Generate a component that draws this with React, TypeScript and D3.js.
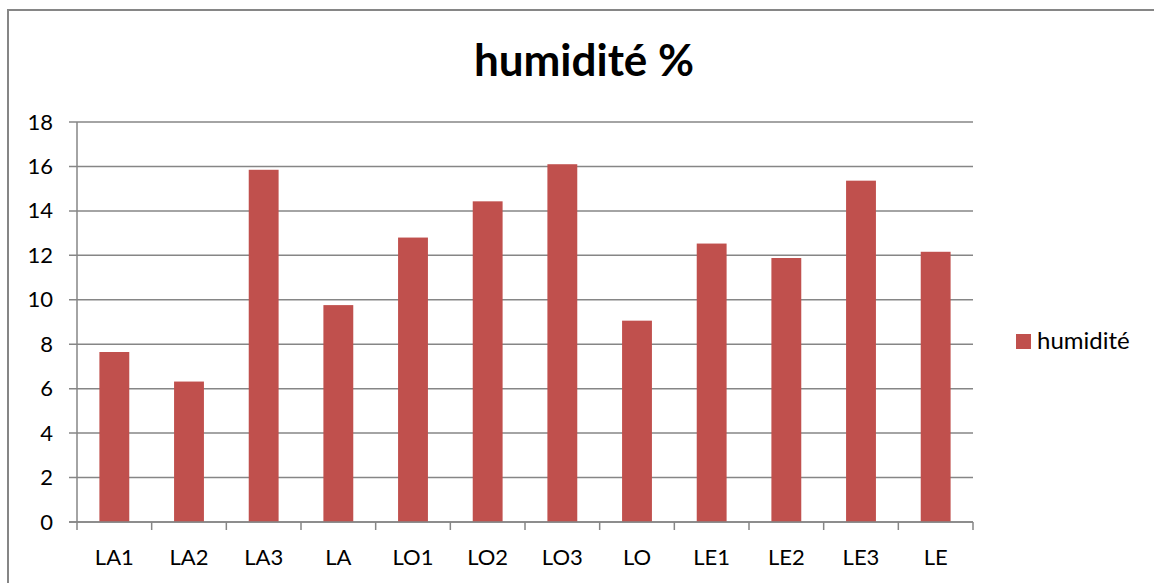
import React, { useRef, useEffect } from 'react';
import * as d3 from 'd3';

const categories = ['LA1', 'LA2', 'LA3', 'LA', 'LO1', 'LO2', 'LO3', 'LO', 'LE1', 'LE2', 'LE3', 'LE'];
const humidite = [7.65, 6.32, 15.85, 9.76, 12.8, 14.43, 16.1, 9.06, 12.53, 11.88, 15.36, 12.16];
const yTicks = [0, 2, 4, 6, 8, 10, 12, 14, 16, 18];
const seriesName = 'humidité';
const title = 'humidité %';

const App = () => {
  const ref = useRef<SVGSVGElement | null>(null);

  useEffect(() => {
    if (!ref.current) return;
    const width = 1154;
    const height = 583;
    const plot = { left: 77, right: 973, top: 122, bottom: 522 };
    const font = 'Lato, "Open Sans", sans-serif';
    const gray = '#868686';

    const svg = d3.select(ref.current);
    svg.selectAll('*').remove();
    svg.attr('width', width).attr('height', height);

    // background + chart frame (only left and top edges are visible)
    svg.append('rect').attr('width', width).attr('height', height).attr('fill', '#fff');
    svg.append('rect')
      .attr('x', 8).attr('y', 10)
      .attr('width', 1160).attr('height', 600)
      .attr('fill', 'none').attr('stroke', gray).attr('stroke-width', 2);

    // scales
    const x = d3.scaleBand<string>()
      .domain(categories)
      .range([plot.left, plot.right])
      .padding(0);
    const y = d3.scaleLinear()
      .domain([0, 18])
      .range([plot.bottom, plot.top]);

    // gridlines
    svg.append('g')
      .selectAll('line')
      .data(yTicks)
      .enter()
      .append('line')
      .attr('x1', plot.left - 8)
      .attr('x2', plot.right)
      .attr('y1', d => y(d))
      .attr('y2', d => y(d))
      .attr('stroke', gray)
      .attr('stroke-width', 1.5);

    // y axis line
    svg.append('line')
      .attr('x1', plot.left).attr('x2', plot.left)
      .attr('y1', plot.top).attr('y2', plot.bottom)
      .attr('stroke', gray).attr('stroke-width', 1.5);

    // y labels
    svg.append('g')
      .selectAll('text')
      .data(yTicks)
      .enter()
      .append('text')
      .attr('x', 53)
      .attr('y', d => y(d) + 7.5)
      .attr('text-anchor', 'end')
      .attr('font-family', font)
      .attr('font-size', 22)
      .attr('fill', '#000')
      .text(d => d);

    // bars
    const barW = x.bandwidth() * 0.4;
    svg.append('g')
      .selectAll('rect')
      .data(humidite)
      .enter()
      .append('rect')
      .attr('x', (d, i) => (x(categories[i]) as number) + (x.bandwidth() - barW) / 2)
      .attr('y', d => y(d))
      .attr('width', barW)
      .attr('height', d => y(0) - y(d))
      .attr('fill', '#C0504D');

    // x axis line and tick marks at category boundaries
    svg.append('line')
      .attr('x1', plot.left - 8).attr('x2', plot.right)
      .attr('y1', plot.bottom).attr('y2', plot.bottom)
      .attr('stroke', gray).attr('stroke-width', 1.5);
    const bounds = categories.map(c => x(c) as number).concat([plot.right]);
    svg.append('g')
      .selectAll('line')
      .data(bounds)
      .enter()
      .append('line')
      .attr('x1', d => d).attr('x2', d => d)
      .attr('y1', plot.bottom).attr('y2', plot.bottom + 8)
      .attr('stroke', gray).attr('stroke-width', 1.5);

    // x labels
    svg.append('g')
      .selectAll('text')
      .data(categories)
      .enter()
      .append('text')
      .attr('x', d => (x(d) as number) + x.bandwidth() / 2)
      .attr('y', 565)
      .attr('text-anchor', 'middle')
      .attr('font-family', font)
      .attr('font-size', 22)
      .attr('fill', '#000')
      .text(d => d);

    // title
    svg.append('text')
      .attr('x', 584)
      .attr('y', 76)
      .attr('text-anchor', 'middle')
      .attr('font-family', font)
      .attr('font-weight', 'bold')
      .attr('font-size', 44)
      .attr('fill', '#000')
      .text(title);

    // legend
    svg.append('rect')
      .attr('x', 1016).attr('y', 334)
      .attr('width', 15).attr('height', 15)
      .attr('fill', '#C0504D');
    svg.append('text')
      .attr('x', 1037)
      .attr('y', 349)
      .attr('font-family', font)
      .attr('font-size', 24)
      .attr('fill', '#000')
      .text(seriesName);
  }, []);

  return (
    <svg
      ref={ref}
      style={{ position: 'absolute', left: 0, top: 0, display: 'block' }}
    />
  );
};

export default App;
